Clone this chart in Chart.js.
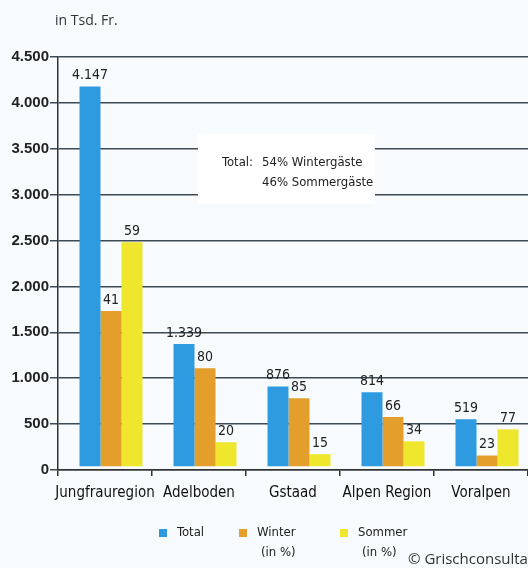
<!DOCTYPE html>
<html>
<head>
<meta charset="utf-8">
<script src="https://cdn.jsdelivr.net/npm/chart.js@4"></script>
<style>
  html, body { margin: 0; padding: 0; background: #f7fbfd; }
  #wrap { width: 528px; height: 568px; position: relative; }
</style>
</head>
<body>
<div id="wrap"><canvas id="grafico" width="528" height="568"></canvas></div>
<script>
// Tourismus-Ausgaben nach Region, in Tsd. Fr.
const regionen = ['Jungfrauregion', 'Adelboden', 'Gstaad', 'Alpen Region', 'Voralpen'];
const total = [4147, 1339, 876, 814, 519];
const winter = [1700, 1075, 750, 545, 125];
const sommer = [2450, 270, 140, 280, 410];

const totalLabels = ['4.147', '1.339', '876', '814', '519'];
const winterProzent = ['41', '80', '85', '66', '23'];
const sommerProzent = ['59', '20', '15', '34', '77'];

const yTicks = [0, 500, 1000, 1500, 2000, 2500, 3000, 3500, 4000, 4500];

const schmal = '"Liberation Sans Narrow", "DejaVu Sans Condensed", "Roboto Condensed", sans-serif';
const farben = { total: '#2e9be0', winter: '#e39e2c', sommer: '#efe62e' };

// Balkengruppen sitzen im Original leicht rechts und knapp über der Achse
const versatzX = 6, versatzY = -3;

function tausender(v) {
  return String(v).replace(/\B(?=(\d{3})+(?!\d))/g, '.');
}

// Beschriftungen, Kasten, Legende
const extras = {
  id: 'extras',
  beforeDatasetsDraw(chart) {
    const ctx = chart.ctx;
    ctx.save();
    ctx.fillStyle = '#ffffff';
    ctx.fillRect(198, 134, 177, 70);
    ctx.fillStyle = '#222';
    ctx.font = '13px ' + schmal;
    ctx.textBaseline = 'middle';
    ctx.fillText('Total:', 222, 163);
    ctx.fillText('54% Wintergäste', 262, 163);
    ctx.fillText('46% Sommergäste', 262, 183);
    ctx.restore();
    ctx.save();
    ctx.translate(versatzX, versatzY);
  },
  afterDatasetsDraw(chart) {
    const ctx = chart.ctx;
    ctx.restore();
    const texte = [totalLabels, winterProzent, sommerProzent];
    ctx.save();
    ctx.fillStyle = '#222';
    ctx.font = '14px ' + schmal;
    ctx.textAlign = 'center';
    ctx.textBaseline = 'bottom';
    chart.data.datasets.forEach((ds, i) => {
      chart.getDatasetMeta(i).data.forEach((bar, j) => {
        ctx.fillText(texte[i][j], bar.x + versatzX, bar.y + versatzY - 4);
      });
    });

    // Titel oben links
    ctx.textAlign = 'left';
    ctx.textBaseline = 'middle';
    ctx.fillStyle = '#333';
    ctx.font = '14px "Open Sans", "DejaVu Sans", sans-serif';
    ctx.fillText('in Tsd. Fr.', 55, 21);

    // Legende
    const eintraege = [
      { farbe: farben.total, x: 159, text: ['Total'] },
      { farbe: farben.winter, x: 239, text: ['Winter', '(in %)'] },
      { farbe: farben.sommer, x: 340, text: ['Sommer', '(in %)'] },
    ];
    ctx.font = '13px ' + schmal;
    eintraege.forEach(e => {
      ctx.fillStyle = e.farbe;
      ctx.fillRect(e.x, 529, 8, 8);
      ctx.fillStyle = '#222';
      ctx.textAlign = 'left';
      ctx.fillText(e.text[0], e.x + 18, 533);
      if (e.text[1]) {
        ctx.fillText(e.text[1], e.x + 22, 553);
      }
    });

    ctx.font = '15px "Open Sans", "DejaVu Sans", sans-serif';
    ctx.fillStyle = '#333';
    ctx.fillText('© Grischconsulta', 408, 560);
    ctx.restore();
  }
};

new Chart(document.getElementById('grafico'), {
  type: 'bar',
  data: {
    labels: regionen,
    datasets: [
      { label: 'Total', data: total, backgroundColor: farben.total },
      { label: 'Winter (in %)', data: winter, backgroundColor: farben.winter },
      { label: 'Sommer (in %)', data: sommer, backgroundColor: farben.sommer },
    ]
  },
  options: {
    responsive: false,
    animation: false,
    devicePixelRatio: 1,
    layout: { padding: { top: 57, right: 0, bottom: 68, left: 0 } },
    datasets: {
      bar: { categoryPercentage: 0.67, barPercentage: 1.0 }
    },
    scales: {
      x: {
        afterFit: s => { s.height = 30; s.paddingLeft = 0; s.paddingRight = 0; },
        grid: { drawOnChartArea: false, tickLength: 6, color: '#333', lineWidth: 1.5 },
        border: { color: '#333', width: 1.5 },
        ticks: {
          padding: 8,
          maxRotation: 0,
          minRotation: 0,
          autoSkip: false,
          color: '#111',
          font: { family: schmal, size: 15 }
        }
      },
      y: {
        min: 0,
        max: 4500,
        afterFit: s => { s.width = 58; },
        afterBuildTicks: s => { s.ticks = yTicks.map(v => ({ value: v })); },
        grid: { color: '#3d4a55', lineWidth: 1.5, tickLength: 8 },
        border: { color: '#333', width: 1.5 },
        ticks: {
          padding: 1,
          color: '#222',
          font: { family: '"Liberation Sans", Arial, sans-serif', size: 15, weight: 'bold' },
          callback: v => tausender(v)
        }
      }
    },
    plugins: {
      legend: { display: false },
      tooltip: { enabled: false }
    }
  },
  plugins: [extras]
});
</script>
</body>
</html>
